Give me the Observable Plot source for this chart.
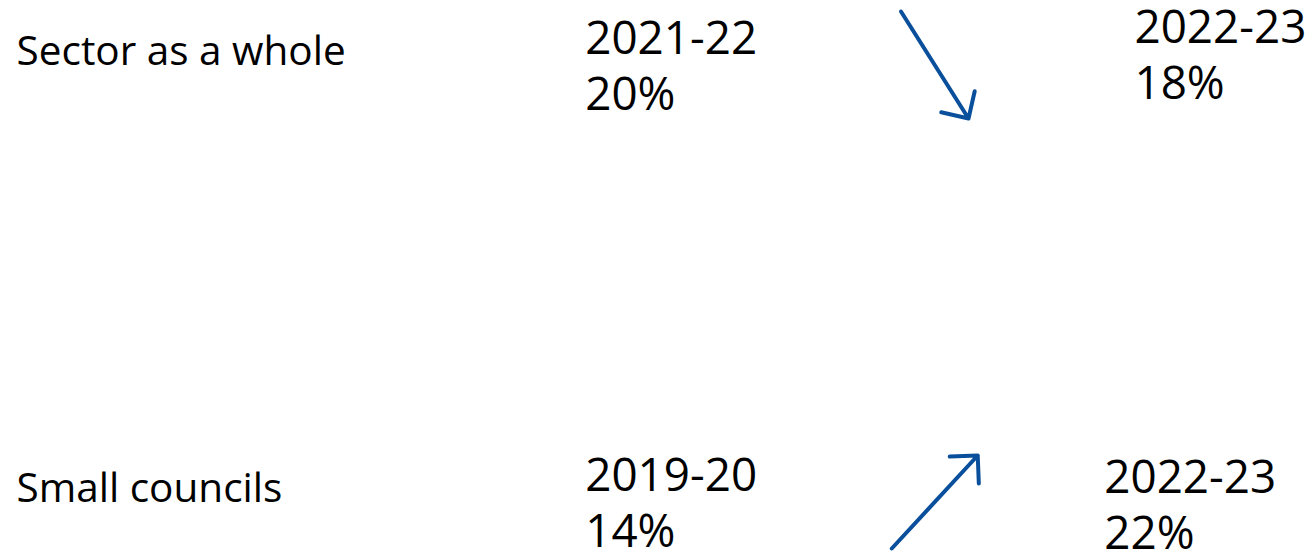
<!DOCTYPE html>
<html>
<head>
<meta charset="utf-8">
<script src="https://cdn.jsdelivr.net/npm/d3@7"></script>
<script src="https://cdn.jsdelivr.net/npm/@observablehq/plot@0.6"></script>
<style>
  html, body { margin: 0; padding: 0; background: #fff; }
  #chart svg { display: block; }
</style>
</head>
<body>
<div id="chart"></div>
<script>
// ---- data ----
const groups     = ["Sector as a whole", "Small councils"];
const fromYears  = ["2021-22", "2019-20"];
const fromValues = [20, 14];
const toYears    = ["2022-23", "2022-23"];
const toValues   = [18, 22];

// ---- layout (x in percent of width, y in row units) ----
const W = 1314, H = 555;
const ROW_TOP = 64.5, ROW_BOTTOM = 501.5, ROW_PX = ROW_BOTTOM - ROW_TOP;
const colLabel = 1.22, colFrom = 44.5, colArrow = 71.1;
const colTo = [86.3, 84.0];
const toShiftPx = [-8, 5];
const arrowHalfX = [2.57, 3.27];
const arrowHalfYPx = [53.5, 46.5];
const BLUE = "#0a4f9c";

const rows = groups.map((g, i) => ({
  group: g,
  row: i,
  fromText: `${fromYears[i]}\n${fromValues[i]}%`,
  toText: `${toYears[i]}\n${toValues[i]}%`,
  dir: Math.sign(toValues[i] - fromValues[i])
}));

const chart = Plot.plot({
  width: W,
  height: H,
  margin: 0,
  style: { fontFamily: "'Open Sans', 'Noto Sans', sans-serif", background: "#fff", color: "#000" },
  x: { domain: [0, 100], axis: null },
  y: { domain: [0, 1], range: [ROW_TOP, ROW_BOTTOM], axis: null },
  marks: [
    Plot.text(rows, {
      x: () => colLabel, y: "row", text: "group",
      textAnchor: "start", lineAnchor: "bottom",
      fontSize: 40.5, fill: "#000"
    }),
    Plot.text(rows, {
      x: () => colFrom, y: "row", text: "fromText",
      textAnchor: "start", lineAnchor: "bottom", lineHeight: 1.23,
      dy: 45, fontSize: 45.8, fill: "#000"
    }),
    Plot.text(rows, {
      x: (d) => colTo[d.row], y: (d) => d.row + toShiftPx[d.row] / ROW_PX, text: "toText",
      textAnchor: "start", lineAnchor: "bottom", lineHeight: 1.23,
      dy: 42, fontSize: 45.8, fill: "#000"
    }),
    Plot.arrow(rows, {
      x1: (d) => colArrow - arrowHalfX[d.row],
      x2: (d) => colArrow + arrowHalfX[d.row],
      y1: (d) => d.row + d.dir * arrowHalfYPx[d.row] / ROW_PX,
      y2: (d) => d.row - d.dir * arrowHalfYPx[d.row] / ROW_PX,
      stroke: BLUE, strokeWidth: 4, strokeLinecap: "round", strokeLinejoin: "round",
      headAngle: 90, headLength: 10.5
    })
  ]
});

document.getElementById("chart").appendChild(chart);
</script>
</body>
</html>
